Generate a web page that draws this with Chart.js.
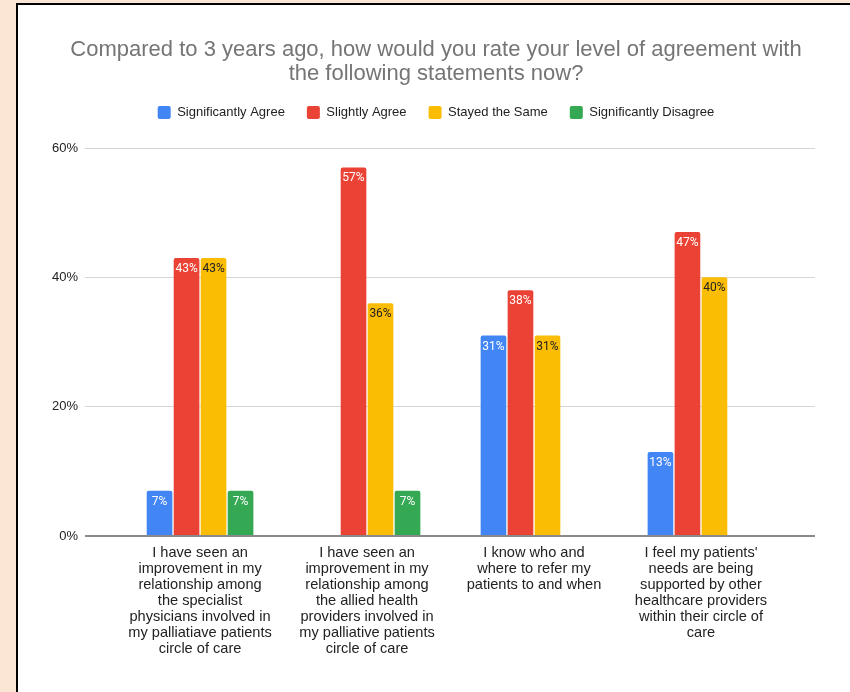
<!DOCTYPE html>
<html>
<head>
<meta charset="utf-8">
<script src="https://cdn.jsdelivr.net/npm/chart.js@4.4.1/dist/chart.umd.min.js"></script>
<style>
  html, body { margin: 0; padding: 0; background: #fbe6d6; overflow: hidden; }
  #frame {
    position: absolute; left: 16px; top: 3px;
    width: 840px; height: 700px;
    background: #fff; border: 2px solid #000;
  }
  #chart { display: block; }
</style>
</head>
<body>
<div id="frame"><canvas id="chart" width="836" height="690"></canvas></div>
<script>
// survey responses, percent of respondents
const categories = [
  ['I have seen an', 'improvement in my', 'relationship among', 'the specialist', 'physicians involved in', 'my palliatiave patients', 'circle of care'],
  ['I have seen an', 'improvement in my', 'relationship among', 'the allied health', 'providers involved in', 'my palliative patients', 'circle of care'],
  ['I know who and', 'where to refer my', 'patients to and when'],
  ['I feel my patients\'', 'needs are being', 'supported by other', 'healthcare providers', 'within their circle of', 'care']
];
const seriesNames = ['Significantly Agree', 'Slightly Agree', 'Stayed the Same', 'Significantly Disagree'];
const significantlyAgree = [7, null, 31, 13];
const slightlyAgree = [43, 57, 38, 47];
const stayedSame = [43, 36, 31, 40];
const significantlyDisagree = [7, 7, null, null];
const yTicks = [0, 20, 40, 60];

const colors = ['#4285f4', '#ea4335', '#fbbc04', '#34a853'];
const labelColors = ['#fff', '#fff', '#222', '#fff'];
const FONT = '"Liberation Sans", Arial, sans-serif';

// value labels drawn inside the top of each bar
const barLabels = {
  id: 'barLabels',
  afterDatasetsDraw(chart) {
    const ctx = chart.ctx;
    ctx.save();
    ctx.font = '12px Roboto, sans-serif';
    ctx.textAlign = 'center';
    ctx.textBaseline = 'middle';
    chart.data.datasets.forEach((ds, i) => {
      chart.getDatasetMeta(i).data.forEach((bar, j) => {
        const v = ds.data[j];
        if (v == null) return;
        ctx.fillStyle = labelColors[i];
        ctx.fillText(v + '%', bar.x, bar.y + 11);
      });
    });
    ctx.restore();
  }
};

// extra space under the legend
const legendGap = {
  id: 'legendGap',
  beforeInit(chart) {
    const fit = chart.legend.fit;
    chart.legend.fit = function () {
      fit.bind(chart.legend)();
      this.height += 19;
    };
  }
};

const ctx = document.getElementById('chart').getContext('2d');
new Chart(ctx, {
  type: 'bar',
  data: {
    labels: categories.map((c, i) => i),
    datasets: [significantlyAgree, slightlyAgree, stayedSame, significantlyDisagree].map((d, i) => ({
      label: seriesNames[i],
      data: d,
      backgroundColor: colors[i],
      borderRadius: 2,
      categoryPercentage: 0.647,
      barPercentage: 0.95
    }))
  },
  options: {
    responsive: false,
    animation: false,
    layout: { padding: 0 },
    plugins: {
      title: {
        display: true,
        text: ['Compared to 3 years ago, how would you rate your level of agreement with', 'the following statements now?'],
        color: '#757575',
        font: { family: FONT, size: 22, weight: 'normal', lineHeight: '24px' },
        padding: { top: 33, bottom: -2 }
      },
      legend: {
        position: 'top',
        labels: {
          boxWidth: 13,
          boxHeight: 13,
          padding: 22,
          color: '#222',
          useBorderRadius: true,
          borderRadius: 2,
          font: { family: FONT, size: 13 }
        }
      },
      tooltip: { enabled: false }
    },
    scales: {
      x: {
        type: 'linear',
        offset: false,
        min: -0.689,
        max: 3.683,
        grid: { display: false },
        border: { display: false },
        afterBuildTicks: axis => { axis.ticks = categories.map((c, i) => ({ value: i })); },
        afterFit: scale => { scale.height = 159; },
        ticks: {
          autoSkip: false,
          maxRotation: 0,
          padding: 1,
          color: '#222',
          font: { family: FONT, size: 14.6, lineHeight: '16px' },
          callback: v => categories[v]
        }
      },
      y: {
        min: 0,
        max: 60,
        afterBuildTicks: axis => { axis.ticks = yTicks.map(v => ({ value: v })); },
        afterFit: scale => { scale.width = 67; },
        border: { display: false },
        grid: {
          drawTicks: false,
          color: c => c.tick.value === 0 ? '#8a8a8a' : '#d6d6d6',
          lineWidth: c => c.tick.value === 0 ? 2 : 1
        },
        ticks: {
          padding: 7,
          color: '#222',
          font: { family: FONT, size: 13 },
          callback: v => v + '%'
        }
      },
      yRight: {
        position: 'right',
        grid: { display: false },
        border: { display: false },
        ticks: { display: false },
        afterFit: scale => { scale.width = 39; }
      }
    }
  },
  plugins: [barLabels, legendGap]
});
</script>
</body>
</html>
